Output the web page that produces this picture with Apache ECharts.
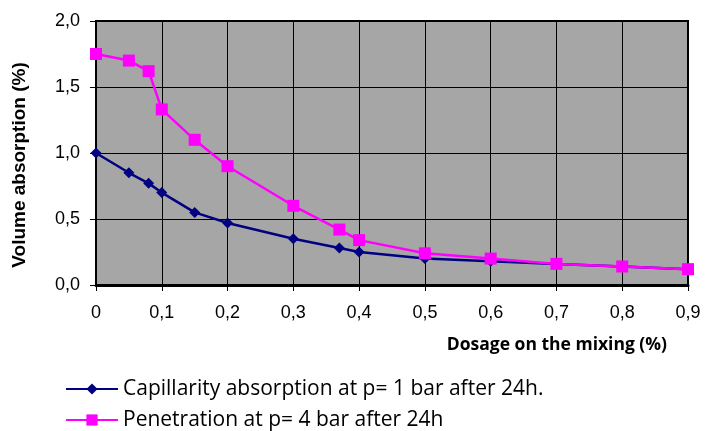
<!DOCTYPE html>
<html><head><meta charset="utf-8">
<script src="https://cdn.jsdelivr.net/npm/echarts@6/dist/echarts.min.js"></script>
<style>html,body{margin:0;padding:0;background:#fff}#c{width:705px;height:431px}</style>
</head><body><div id="c"></div>
<script>
const dosage = [0, 0.05, 0.08, 0.1, 0.15, 0.2, 0.3, 0.37, 0.4, 0.5, 0.6, 0.7, 0.8, 0.9];
const capillarity = [1.0, 0.85, 0.77, 0.70, 0.55, 0.47, 0.35, 0.28, 0.25, 0.20, 0.18, 0.16, 0.14, 0.12];
const penetration = [1.75, 1.70, 1.62, 1.33, 1.10, 0.90, 0.60, 0.42, 0.34, 0.24, 0.20, 0.16, 0.14, 0.12];
const seriesNames = ['Capillarity absorption at p= 1 bar after 24h.', 'Penetration at p= 4 bar after 24h'];
const xTitle = 'Dosage on the mixing (%)';
const yTitle = 'Volume absorption (%)';

const chart = echarts.init(document.getElementById('c'));
const legFont = '"Open Sans", sans-serif';
const legendBase = {
  orient: 'vertical', left: 65, padding: 0, itemWidth: 52, itemHeight: 14,
  textStyle: { color: '#000', fontFamily: legFont, fontSize: 21, lineHeight: 24 }
};
chart.setOption({
  animation: false,
  grid: { left: 96, right: 17, top: 21, bottom: 146, show: true, backgroundColor: '#a6a6a6', borderColor: '#000', borderWidth: 2 },
  xAxis: {
    type: 'value', min: 0, max: 0.9, interval: 0.1,
    axisLine: { show: true, lineStyle: { color: '#000', width: 3 } },
    axisTick: { show: true, length: 6, lineStyle: { color: '#000' } },
    splitLine: { show: true, lineStyle: { color: '#000', width: 1 } },
    axisLabel: { color: '#000', fontFamily: '"Liberation Sans", Arial', fontSize: 18, margin: 19,
      formatter: v => (Math.round(v * 10) / 10).toString().replace('.', ',') }
  },
  yAxis: {
    type: 'value', min: 0, max: 2, interval: 0.5,
    axisLine: { show: true, lineStyle: { color: '#000', width: 2 } },
    axisTick: { show: true, length: 6, lineStyle: { color: '#000' } },
    splitLine: { show: true, lineStyle: { color: '#000', width: 1 } },
    axisLabel: { color: '#000', fontFamily: '"Liberation Sans", Arial', fontSize: 18, margin: 16,
      formatter: v => v.toFixed(1).replace('.', ',') }
  },
  legend: [
    Object.assign({}, legendBase, { top: 377, data: [seriesNames[0]] }),
    Object.assign({}, legendBase, { top: 408, data: [seriesNames[1]] })
  ],
  graphic: [
    { type: 'text', right: 38, top: 336,
      style: { text: xTitle, fill: '#000', font: 'bold 17.5px ' + legFont } },
    { type: 'text', x: 20, y: 165, rotation: Math.PI / 2,
      style: { text: yTitle, fill: '#000', font: 'bold 19px "Liberation Sans", Arial', align: 'center', verticalAlign: 'middle' } }
  ],
  series: [
    { name: seriesNames[0], type: 'line', data: dosage.map((x, i) => [x, capillarity[i]]),
      symbol: 'diamond', symbolSize: 11, lineStyle: { color: '#000080', width: 2.5 },
      itemStyle: { color: '#000080' } },
    { name: seriesNames[1], type: 'line', data: dosage.map((x, i) => [x, penetration[i]]),
      symbol: 'rect', symbolSize: 12, lineStyle: { color: '#ff00ff', width: 2.5 },
      itemStyle: { color: '#ff00ff' } }
  ]
});
</script></body></html>
